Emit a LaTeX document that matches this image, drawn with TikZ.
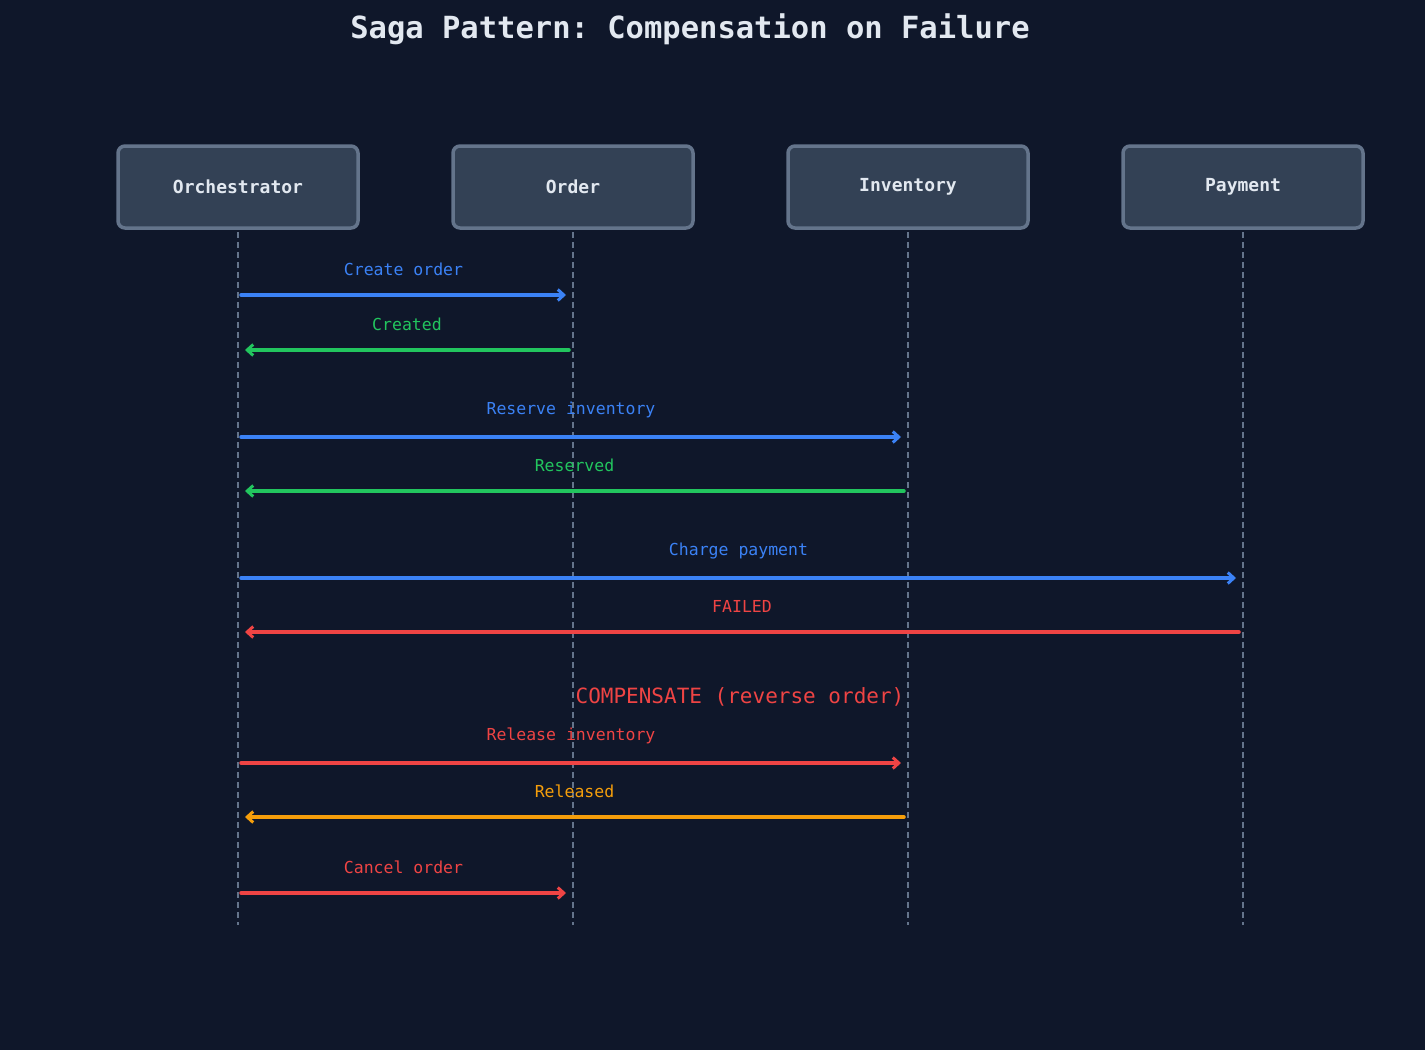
\documentclass[tikz,border=0pt]{standalone}
\usepackage{fontspec}
\setmonofont{DejaVu Sans Mono}
\usetikzlibrary{arrows.meta}
\definecolor{bg}{HTML}{0F172A}
\definecolor{boxf}{HTML}{334155}
\definecolor{boxd}{HTML}{64748B}
\definecolor{txt}{HTML}{E2E8F0}
\definecolor{cblue}{HTML}{3B82F6}
\definecolor{cgreen}{HTML}{22C55E}
\definecolor{cred}{HTML}{EF4444}
\definecolor{corange}{HTML}{F59E0B}
\begin{document}
\begin{tikzpicture}[x=1pt,y=-1pt,
  actor/.style={draw=boxd,line width=3.5pt,fill=boxf,rounded corners=7pt,minimum width=240pt,minimum height=82pt,font=\ttfamily\bfseries\fontsize{18}{20}\selectfont,text=txt},
  life/.style={draw=boxd,line width=1.6pt,dash pattern=on 6pt off 4pt},
  msg/.style={line width=3.5pt,line cap=round,-{Straight Barb[length=6pt,width=11pt,line width=3pt]}},
  lbl/.style={font=\ttfamily\fontsize{16.5}{18}\selectfont}]
\fill[bg] (0,0) rectangle (1425,1050);
\useasboundingbox (0,0) rectangle (1425,1050);
\node[font=\ttfamily\bfseries\fontsize{30.5}{34}\selectfont,text=txt] (title) at (690,29) {Saga Pattern: Compensation on Failure};
\foreach \n/\x/\t in {o/238/Orchestrator,r/573/Order,i/908/Inventory,p/1243/Payment}{
  \node[actor] (\n) at (\x,187) {\t};
  \coordinate (\n e) at (\x,925);
  \draw[life] (\x,232) -- (\n e);
}
\foreach \y in {295,350,437,491,578,632,763,817,893}{
  \coordinate (oy\y) at (241,\y);
  \coordinate (ry\y) at (566,\y);
  \coordinate (iy\y) at (901,\y);
  \coordinate (py\y) at (1236,\y);
  \coordinate (rs\y) at (569,\y);
  \coordinate (is\y) at (904,\y);
  \coordinate (ps\y) at (1239,\y);
  \coordinate (ot\y) at (245,\y);
}
\tikzset{lb/.style={midway,above=14pt,lbl}}
\draw[msg,cblue] (oy295) -- (ry295) node[lb]{Create order};
\draw[msg,cgreen] (rs350) -- (ot350) node[lb]{Created};
\draw[msg,cblue] (oy437) -- (iy437) node[lb]{Reserve inventory};
\draw[msg,cgreen] (is491) -- (ot491) node[lb]{Reserved};
\draw[msg,cblue] (oy578) -- (py578) node[lb]{Charge payment};
\draw[msg,cred] (ps632) -- (ot632) node[lb]{FAILED};
\node[text=cred,font=\ttfamily\fontsize{21}{24}\selectfont] (comp) at (740,697) {COMPENSATE (reverse order)};
\draw[msg,cred] (oy763) -- (iy763) node[lb]{Release inventory};
\draw[msg,corange] (is817) -- (ot817) node[lb]{Released};
\draw[msg,cred] (oy893) -- (ry893) node[lb]{Cancel order};
\end{tikzpicture}
\end{document}
